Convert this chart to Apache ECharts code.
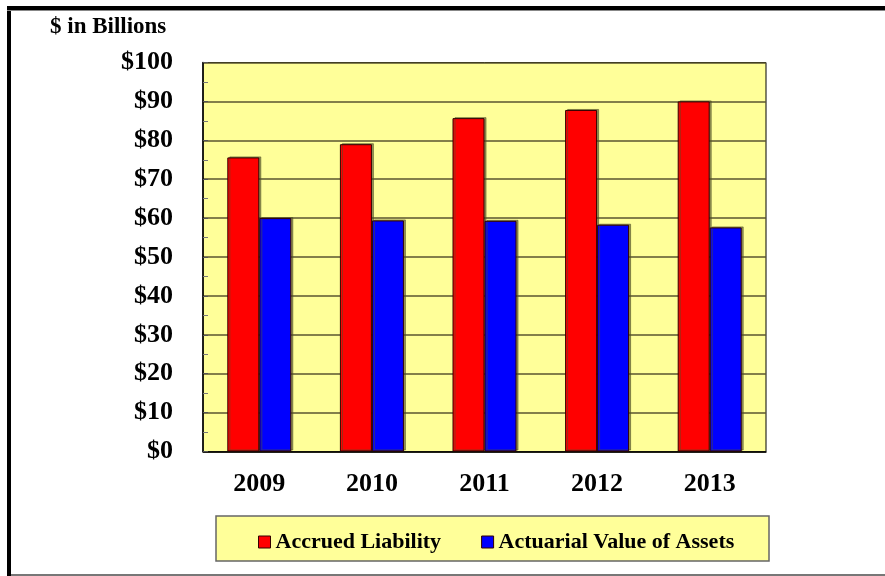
<!DOCTYPE html>
<html>
<head>
<meta charset="utf-8">
<script src="https://cdn.jsdelivr.net/npm/echarts@6/dist/echarts.min.js"></script>
<style>
    html, body { margin: 0; padding: 0; background: #fff; }
    #main { width: 885px; height: 576px; }
</style>
</head>
<body>
<div id="main"></div>
<script>
// 数据
var years = ['2009', '2010', '2011', '2012', '2013'];
var accruedLiability = [75.6, 79.0, 85.7, 87.8, 90.0];
var actuarialAssets = [60.0, 59.4, 59.3, 58.3, 57.6];
var seriesNames = ['Accrued Liability', 'Actuarial Value of Assets'];

var fontFamily = '"Liberation Serif", "Times New Roman", serif';

var myChart = echarts.init(document.getElementById('main'));

function barSeries(name, data, color) {
    return {
        name: name,
        type: 'bar',
        data: data,
        barWidth: 32,
        barGap: '0%',
        itemStyle: {
            color: color,
            borderColor: '#330000',
            borderWidth: 1,
            shadowColor: 'rgba(80,80,40,0.6)',
            shadowOffsetX: 2,
            shadowOffsetY: -1
        }
    };
}

var option = {
    animation: false,
    backgroundColor: '#ffffff',
    graphic: [
        // 外框
        { type: 'rect', shape: { x: 7, y: 6, width: 885, height: 4 }, style: { fill: '#000' } },
        { type: 'rect', shape: { x: 7, y: 6, width: 4, height: 570 }, style: { fill: '#000' } },
        { type: 'rect', shape: { x: 7, y: 10, width: 885, height: 1 }, style: { fill: '#888' } },
        { type: 'rect', shape: { x: 11, y: 574, width: 885, height: 2 }, style: { fill: '#777' } },
        // 图例框
        { type: 'rect', z: 0, shape: { x: 216, y: 516, width: 553, height: 45 },
          style: { fill: '#ffff99', stroke: '#666', lineWidth: 1.5 } }
    ],
    title: {
        text: '$ in Billions',
        left: 45,
        top: 11,
        textStyle: { fontFamily: fontFamily, fontSize: 23, fontWeight: 'bold', color: '#000' }
    },
    legend: {
        data: seriesNames,
        top: 531,
        left: 258,
        padding: 0,
        itemWidth: 12,
        itemHeight: 12,
        itemGap: 40,
        icon: 'rect',
        textStyle: { fontFamily: fontFamily, fontSize: 22, fontWeight: 'bold', color: '#000', padding: [0, 0, 0, 0] },
        itemStyle: { borderColor: '#330000', borderWidth: 1 }
    },
    grid: {
        left: 203,
        top: 62.5,
        right: 119,
        bottom: 124.5,
        show: true,
        backgroundColor: '#ffff99',
        borderColor: '#000',
        borderWidth: 1
    },
    xAxis: {
        type: 'category',
        data: years,
        axisLine: { lineStyle: { color: '#000', width: 1.5 } },
        axisTick: { show: false },
        axisLabel: {
            margin: 20,
            fontFamily: fontFamily, fontSize: 26, fontWeight: 'bold', color: '#000'
        }
    },
    yAxis: {
        type: 'value',
        min: 0,
        max: 100,
        interval: 10,
        axisLine: { show: true, lineStyle: { color: '#000', width: 1.5 } },
        axisTick: { show: true, inside: true, length: 5, lineStyle: { color: '#555' } },
        minorTick: { show: true, splitNumber: 2, length: 5, lineStyle: { color: '#777' } },
        splitLine: { lineStyle: { color: '#5a5530', width: 1.5 } },
        axisLabel: {
            margin: 30,
            fontFamily: fontFamily, fontSize: 26, fontWeight: 'bold', color: '#000',
            formatter: '${value}'
        }
    },
    series: [
        barSeries(seriesNames[0], accruedLiability, '#ff0000'),
        barSeries(seriesNames[1], actuarialAssets, '#0000ff')
    ]
};

myChart.setOption(option);
</script>
</body>
</html>
